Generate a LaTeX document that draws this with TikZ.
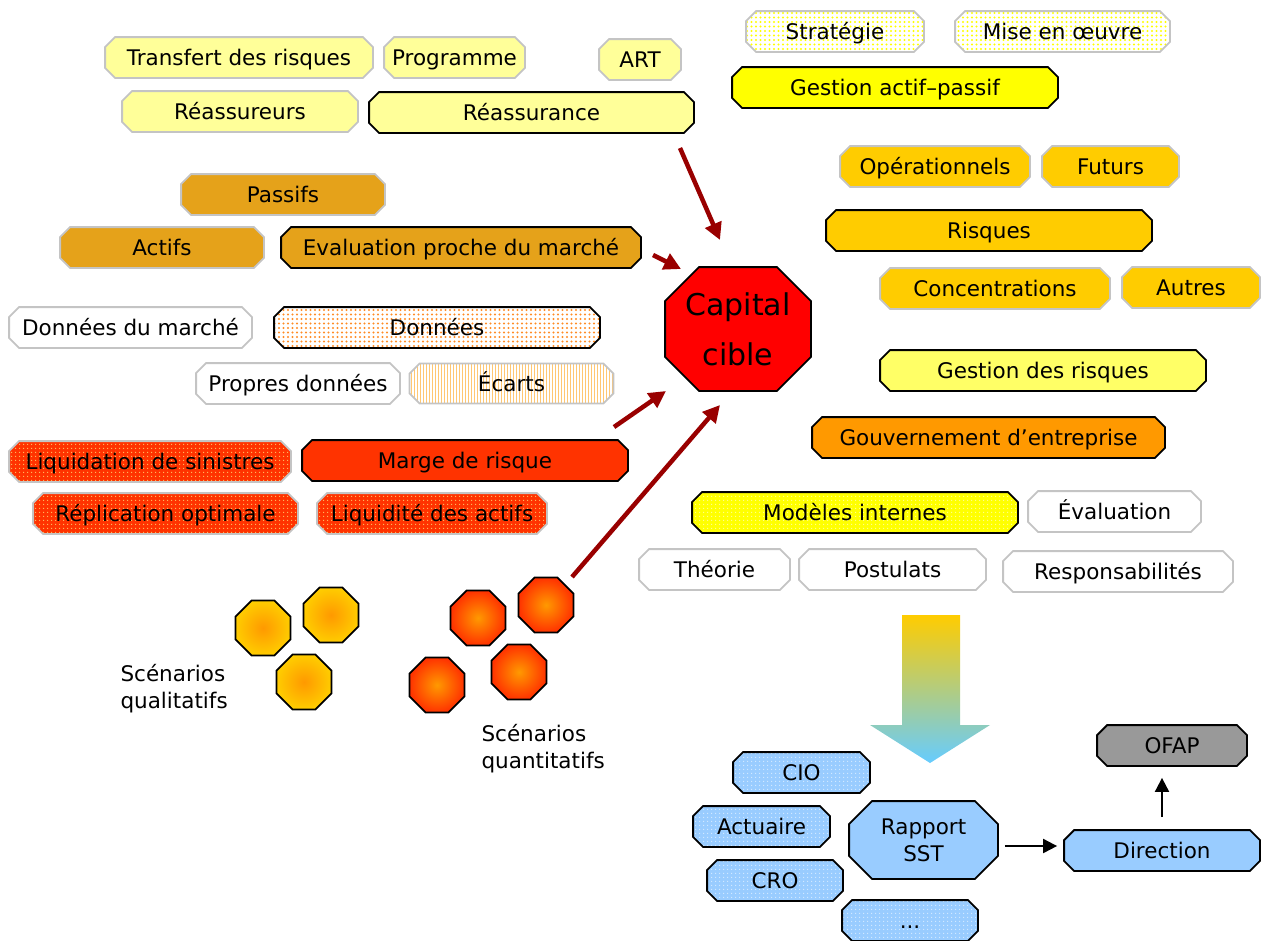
\documentclass[tikz,border=0pt]{standalone}
\usepackage{fontspec}
\setmainfont{DejaVu Sans}
\usepackage{tikz}
\usetikzlibrary{arrows.meta,positioning,shapes.geometric,patterns.meta,shadings}

\definecolor{lightyel}{HTML}{FFFF99}
\definecolor{paleyel}{HTML}{FFFF66}
\definecolor{pureyel}{HTML}{FFFF00}
\definecolor{gold}{HTML}{FFCC00}
\definecolor{darkgold}{HTML}{E5A21A}
\definecolor{orng}{HTML}{FF9900}
\definecolor{dotorng}{HTML}{FF8C26}
\definecolor{redorng}{HTML}{FF3300}
\definecolor{lightblue}{HTML}{99CCFF}
\definecolor{skyblue}{HTML}{66CCFF}
\definecolor{beige}{HTML}{D8C8A0}
\definecolor{bordgray}{HTML}{C4C4C4}
\definecolor{ofapgray}{HTML}{999999}
\definecolor{arrowred}{HTML}{990000}

% rectangle with cut corners of fixed size
\makeatletter
\pgfkeys{/pgf/cut corner/.initial=10pt}
\pgfdeclareshape{cutbox}{
  \inheritsavedanchors[from=rectangle]
  \inheritanchorborder[from=rectangle]
  \inheritanchor[from=rectangle]{center}
  \inheritanchor[from=rectangle]{text}
  \inheritanchor[from=rectangle]{north}
  \inheritanchor[from=rectangle]{south}
  \inheritanchor[from=rectangle]{east}
  \inheritanchor[from=rectangle]{west}
  \inheritanchor[from=rectangle]{north east}
  \inheritanchor[from=rectangle]{north west}
  \inheritanchor[from=rectangle]{south east}
  \inheritanchor[from=rectangle]{south west}
  \inheritanchor[from=rectangle]{mid}
  \inheritanchor[from=rectangle]{base}
  \backgroundpath{
    \southwest \edef\cbxa{\the\pgf@x}\edef\cbya{\the\pgf@y}
    \northeast \edef\cbxb{\the\pgf@x}\edef\cbyb{\the\pgf@y}
    \pgfmathsetlengthmacro\cbc{\pgfkeysvalueof{/pgf/cut corner}}
    \pgfpathmoveto{\pgfpoint{\cbxa+\cbc}{\cbya}}
    \pgfpathlineto{\pgfpoint{\cbxb-\cbc}{\cbya}}
    \pgfpathlineto{\pgfpoint{\cbxb}{\cbya+\cbc}}
    \pgfpathlineto{\pgfpoint{\cbxb}{\cbyb-\cbc}}
    \pgfpathlineto{\pgfpoint{\cbxb-\cbc}{\cbyb}}
    \pgfpathlineto{\pgfpoint{\cbxa+\cbc}{\cbyb}}
    \pgfpathlineto{\pgfpoint{\cbxa}{\cbyb-\cbc}}
    \pgfpathlineto{\pgfpoint{\cbxa}{\cbya+\cbc}}
    \pgfpathclose
  }
}
\makeatother

\begin{document}
\begin{tikzpicture}[x=1pt,y=-1pt,
    cut/.style={cutbox, inner sep=0pt, line width=1.8pt, font=\fontsize{21.5}{27}\selectfont},
    box/.style={cut, cut corner=10pt, minimum height=39pt, text height=15.5pt, text depth=0pt},
    gr/.style={box, draw=bordgray},
    bk/.style={box, draw=black},
    dotbox/.style 2 args={preaction={fill=#1}, pattern={Dots[distance=4pt,radius=0.85pt]}, pattern color=#2},
    bigdots/.style={preaction={fill=white}, pattern={Dots[distance=4.5pt,radius=1.1pt]}, pattern color=#1},
    linebox/.style={pattern={Lines[distance=3pt,angle=90,line width=0.9pt]}, pattern color=#1},
    scen/.style 2 args={regular polygon, regular polygon sides=8, minimum size=59.5pt, inner sep=0pt,
      draw=black, line width=1.8pt, inner color=#1, outer color=#2},
    redarrow/.style={draw=arrowred, line width=4.5pt, -{Triangle[length=17pt,width=17pt]}},
    blkarrow/.style={draw=black, line width=2pt, -{Triangle[length=14pt,width=14pt]}},
    lbl/.style={anchor=west, align=left, font=\fontsize{21.5}{27}\selectfont}]

    \useasboundingbox (0,0) rectangle (1263,940);

    % reassurance
    \node[gr, fill=lightyel, minimum width=266pt] (transfert) at (239,57.5) {Transfert des risques};
    \node[gr, fill=lightyel, minimum width=139pt] (programme) at (454.5,57.5) {Programme};
    \node[gr, fill=lightyel, minimum width=80pt] (art) at (640,59.5) {ART};
    \node[gr, fill=lightyel, minimum width=234pt] (reassureurs) at (240,111.5) {Réassureurs};
    \node[bk, fill=lightyel, minimum width=323pt] (reassurance) at (531.5,112.5) {Réassurance};

    % ALM
    \node[gr, bigdots=pureyel, minimum width=176pt] (strategie) at (835,31.5) {Stratégie};
    \node[gr, bigdots=pureyel, minimum width=213pt] (miseoeuvre) at (1062.5,31.5) {Mise en œuvre};
    \node[bk, fill=pureyel, minimum width=324pt] (alm) at (895,87.5) {Gestion actif–passif};

    % risques
    \node[gr, fill=gold, minimum width=188pt] (operationnels) at (935,166.5) {Opérationnels};
    \node[gr, fill=gold, minimum width=135pt] (futurs) at (1110.5,166.5) {Futurs};
    \node[bk, fill=gold, minimum width=324pt] (risques) at (989,230.5) {Risques};
    \node[gr, fill=gold, minimum width=228pt] (concentrations) at (995,288.5) {Concentrations};
    \node[gr, fill=gold, minimum width=136pt] (autres) at (1191,287.5) {Autres};
    \node[bk, fill=paleyel, minimum width=324pt] (gestrisques) at (1043,370.5) {Gestion des risques};
    \node[bk, fill=orng, minimum width=351pt] (gouvernement) at (988.5,437.5) {Gouvernement d’entreprise};

    % evaluation
    \node[gr, fill=darkgold, minimum width=202pt] (passifs) at (283,194.5) {Passifs};
    \node[gr, fill=darkgold, minimum width=202pt] (actifs) at (162,247.5) {Actifs};
    \node[bk, fill=darkgold, minimum width=358pt] (evaluation) at (461,247.5) {Evaluation proche du marché};

    % donnees
    \node[gr, fill=white, minimum width=241pt] (donneesmarche) at (130.5,327.5) {Données du marché};
    \node[bk, bigdots=dotorng, minimum width=324pt] (donnees) at (437,327.5) {Données};
    \node[gr, fill=white, minimum width=202pt] (propres) at (298,383.5) {Propres données};
    \node[gr, linebox={orng!55}, minimum width=203pt] (ecarts) at (511.5,383.5) {Écarts};

    % marge de risque
    \node[gr, dotbox={redorng}{orng!60}, minimum width=280pt] (liquidation) at (150,461.5) {Liquidation de sinistres};
    \node[bk, fill=redorng, minimum width=324pt] (marge) at (465,460.5) {Marge de risque};
    \node[gr, dotbox={redorng}{orng!60}, minimum width=263pt] (replication) at (165.5,513.5) {Réplication optimale};
    \node[gr, dotbox={redorng}{orng!60}, minimum width=228pt] (liquidite) at (432,513.5) {Liquidité des actifs};

    \node[cut, draw=black, fill=red, cut corner=34pt, minimum width=144pt, minimum height=122pt, align=center,
      font=\fontsize{30}{50}\selectfont] (capital) at (738,329) {Capital\\cible};

    % modeles internes
    \node[bk, dotbox={pureyel}{lightyel}, minimum width=324pt] (modeles) at (855,512.5) {Modèles internes};
    \node[gr, fill=white, minimum width=171pt] (evalmod) at (1114.5,511.5) {Évaluation};
    \node[gr, fill=white, minimum width=149pt] (theorie) at (714.5,569.5) {Théorie};
    \node[gr, fill=white, minimum width=185pt] (postulats) at (892.5,569.5) {Postulats};
    \node[gr, fill=white, minimum width=228pt] (responsabilites) at (1118,571.5) {Responsabilités};

    % scenarios
    \node[scen={orng}{gold}] (ql1) at (263,628) {};
    \node[scen={orng}{gold}] (ql2) at (331,615) {};
    \node[scen={orng}{gold}] (ql3) at (304,682) {};
    \node[scen={orng}{redorng}] (qn1) at (478,618) {};
    \node[scen={orng}{redorng}] (qn2) at (546,605) {};
    \node[scen={orng}{redorng}] (qn3) at (437,685) {};
    \node[scen={orng}{redorng}] (qn4) at (519,672) {};
    \node[lbl] (lblqual) at (117,689) {Scénarios\\qualitatifs};
    \node[lbl] (lblquant) at (478,749) {Scénarios\\quantitatifs};

    % SST
    \node[bk, dotbox={lightblue}{white!60!lightblue}, minimum width=135pt] (cio) at (801.5,772.5) {CIO};
    \node[bk, dotbox={lightblue}{white!60!lightblue}, minimum width=135pt] (actuaire) at (761.5,826.5) {Actuaire};
    \node[bk, dotbox={lightblue}{white!60!lightblue}, minimum width=134pt] (cro) at (775,880.5) {CRO};
    \node[bk, dotbox={lightblue}{white!60!lightblue}, minimum width=134pt] (etc) at (910,920.5) {...};
    \node[cut, draw=black, fill=lightblue, cut corner=23pt, minimum width=147pt, minimum height=76pt,
      align=center] (rapport) at (923.5,840) {Rapport\\SST};
    \node[bk, fill=lightblue, minimum width=194pt] (direction) at (1162,850.5) {Direction};
    \node[bk, fill=ofapgray, minimum width=148pt] (ofap) at (1172,745.5) {OFAP};

    \shade[top color=gold, middle color=beige, bottom color=skyblue] (902,615) -- (960,615) -- (960,725)
      -- (990,725) -- (930,763) -- (870,725) -- (902,725) -- cycle;

    % fleches vers le capital cible
    \coordinate (r1) at (680,148);  \coordinate (r1e) at (720,240);
    \coordinate (e1) at (653,255);  \coordinate (e1e) at (681,269);
    \coordinate (m1) at (614,427);  \coordinate (m1e) at (666,391);
    \coordinate (s1) at (572,577);  \coordinate (s1e) at (720,405);
    \draw[redarrow] (r1) -- (r1e);
    \draw[redarrow] (e1) -- (e1e);
    \draw[redarrow] (m1) -- (m1e);
    \draw[redarrow] (s1) -- (s1e);

    \draw[blkarrow, shorten <=7pt, shorten >=7pt] ([yshift=-6pt]rapport.east) -- ([yshift=-6pt]rapport.east -| direction.west);
    \draw[blkarrow, shorten <=13pt, shorten >=12pt] (direction.north) -- (direction.north |- ofap.south);
\end{tikzpicture}
\end{document}
